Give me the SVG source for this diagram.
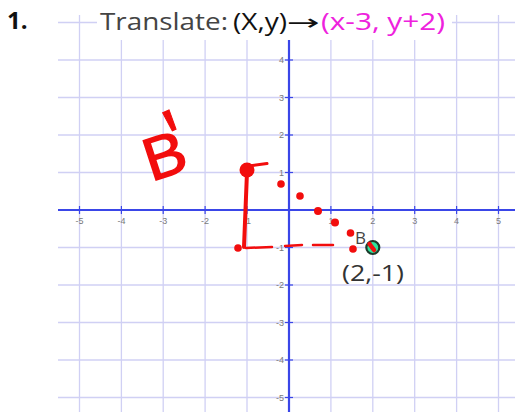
<svg xmlns="http://www.w3.org/2000/svg" width="515" height="412" viewBox="0 0 515 412">
<style>
.grid line{stroke:#d0d0f4;stroke-width:1.3}
.axis{stroke:#3a46e8;stroke-width:2.2}
.tick{stroke:#3a46e8;stroke-width:1.2}
.lbl{font-family:"Liberation Sans",Arial,sans-serif;font-size:9px;fill:#7a7a7a}
.xl{text-anchor:middle}
.yl{text-anchor:end}
.hand{font-family:"Open Sans","DejaVu Sans",sans-serif}
.red{fill:#f20d0d}
.redline{stroke:#f20d0d;fill:none;stroke-linecap:round}
</style>
<rect width="515" height="412" fill="#ffffff"/>
<g id="grid" class="grid">
<line x1="79.5" y1="15" x2="79.5" y2="412"/>
<line x1="121.4" y1="15" x2="121.4" y2="412"/>
<line x1="163.2" y1="15" x2="163.2" y2="412"/>
<line x1="205.1" y1="15" x2="205.1" y2="412"/>
<line x1="247" y1="15" x2="247" y2="412"/>
<line x1="330.9" y1="15" x2="330.9" y2="412"/>
<line x1="372.8" y1="15" x2="372.8" y2="412"/>
<line x1="414.7" y1="15" x2="414.7" y2="412"/>
<line x1="456.6" y1="15" x2="456.6" y2="412"/>
<line x1="498.5" y1="15" x2="498.5" y2="412"/>
<line x1="58" y1="22.5" x2="515" y2="22.5"/>
<line x1="58" y1="60" x2="515" y2="60"/>
<line x1="58" y1="97.5" x2="515" y2="97.5"/>
<line x1="58" y1="135" x2="515" y2="135"/>
<line x1="58" y1="172.5" x2="515" y2="172.5"/>
<line x1="58" y1="247.5" x2="515" y2="247.5"/>
<line x1="58" y1="285" x2="515" y2="285"/>
<line x1="58" y1="322.5" x2="515" y2="322.5"/>
<line x1="58" y1="360" x2="515" y2="360"/>
<line x1="58" y1="397.5" x2="515" y2="397.5"/>
</g>
<rect x="97" y="0" width="355" height="40" fill="#ffffff"/>
<g id="axes">
<line class="axis" x1="58" y1="210" x2="515" y2="210"/>
<line class="axis" x1="289" y1="40" x2="289" y2="412"/>
<g class="tick">
<line x1="79.5" y1="206" x2="79.5" y2="214"/>
<line x1="121.4" y1="206" x2="121.4" y2="214"/>
<line x1="163.2" y1="206" x2="163.2" y2="214"/>
<line x1="205.1" y1="206" x2="205.1" y2="214"/>
<line x1="247" y1="206" x2="247" y2="214"/>
<line x1="330.9" y1="206" x2="330.9" y2="214"/>
<line x1="372.8" y1="206" x2="372.8" y2="214"/>
<line x1="414.7" y1="206" x2="414.7" y2="214"/>
<line x1="456.6" y1="206" x2="456.6" y2="214"/>
<line x1="498.5" y1="206" x2="498.5" y2="214"/>
<line x1="285" y1="60" x2="293" y2="60"/>
<line x1="285" y1="97.5" x2="293" y2="97.5"/>
<line x1="285" y1="135" x2="293" y2="135"/>
<line x1="285" y1="172.5" x2="293" y2="172.5"/>
<line x1="285" y1="247.5" x2="293" y2="247.5"/>
<line x1="285" y1="285" x2="293" y2="285"/>
<line x1="285" y1="322.5" x2="293" y2="322.5"/>
<line x1="285" y1="360" x2="293" y2="360"/>
<line x1="285" y1="397.5" x2="293" y2="397.5"/>
</g>
<g class="lbl xl">
<text x="79.5" y="224">-5</text>
<text x="121.4" y="224">-4</text>
<text x="163.2" y="224">-3</text>
<text x="205.1" y="224">-2</text>
<text x="247" y="224">-1</text>
<text x="330.9" y="224">1</text>
<text x="372.8" y="224">2</text>
<text x="414.7" y="224">3</text>
<text x="456.6" y="224">4</text>
<text x="498.5" y="224">5</text>
</g>
<g class="lbl yl">
<text x="284" y="63">4</text>
<text x="284" y="100.5">3</text>
<text x="284" y="138">2</text>
<text x="284" y="175.5">1</text>
<text x="284" y="250.5">-1</text>
<text x="284" y="288">-2</text>
<text x="284" y="325.5">-3</text>
<text x="284" y="363">-4</text>
<text x="284" y="400.5">-5</text>
</g>
</g>
<g id="title" class="hand">
<text x="7" y="29" font-size="24" font-weight="bold" fill="#111111">1.</text>
<text x="100" y="30" font-size="24" fill="#444444" textLength="128" lengthAdjust="spacingAndGlyphs">Translate:</text>
<text x="233" y="30" font-size="24" fill="#111111" textLength="54" lengthAdjust="spacingAndGlyphs">(X,y)</text>
<text x="287" y="30" font-size="22" fill="#111111" textLength="33" lengthAdjust="spacingAndGlyphs">→</text>
<text x="321" y="30" font-size="24" fill="#ee22dd" textLength="124" lengthAdjust="spacingAndGlyphs">(x-3, y+2)</text>
</g>
<g id="connectors">
<line class="redline" x1="247" y1="172" x2="244" y2="247" stroke-width="4"/>
<path class="redline" d="M246 248 L272 247 M285 246 L302 245 M313 245 L333 245" stroke-width="2.5"/>
<g class="red">
<circle cx="281" cy="184" r="3.8"/>
<circle cx="300" cy="196" r="3.8"/>
<circle cx="318" cy="211" r="4"/>
<circle cx="335" cy="222.5" r="4"/>
<circle cx="350.5" cy="233" r="3.8"/>
<circle cx="353" cy="249" r="3.8"/>
<circle cx="238" cy="248" r="3.8"/>
</g>
</g>
<g id="point-B">
<circle cx="372.8" cy="247.5" r="6.5" fill="#2fe39c" stroke="#1b3b2b" stroke-width="2.2"/>
<line class="redline" x1="369.5" y1="244" x2="374" y2="250" stroke-width="4.5"/>
<text class="hand" x="355" y="244" font-size="17" fill="#444444">B</text>
<text class="hand" x="342" y="281" font-size="22" fill="#333333" textLength="62" lengthAdjust="spacingAndGlyphs">(2,-1)</text>
</g>
<g id="point-B-prime">
<circle cx="247" cy="170" r="7.5" fill="#f20d0d"/>
<line class="redline" x1="249" y1="166" x2="267" y2="163.5" stroke-width="3"/>
<text class="hand red" x="0" y="0" font-size="58" stroke="#f20d0d" stroke-width="1.5" transform="translate(150 182) rotate(-18) scale(1.15 1)">B</text>
<text class="hand red" x="0" y="0" font-size="80" stroke="#f20d0d" stroke-width="1" transform="translate(181 167) rotate(-24)">'</text>
</g>
</svg>
